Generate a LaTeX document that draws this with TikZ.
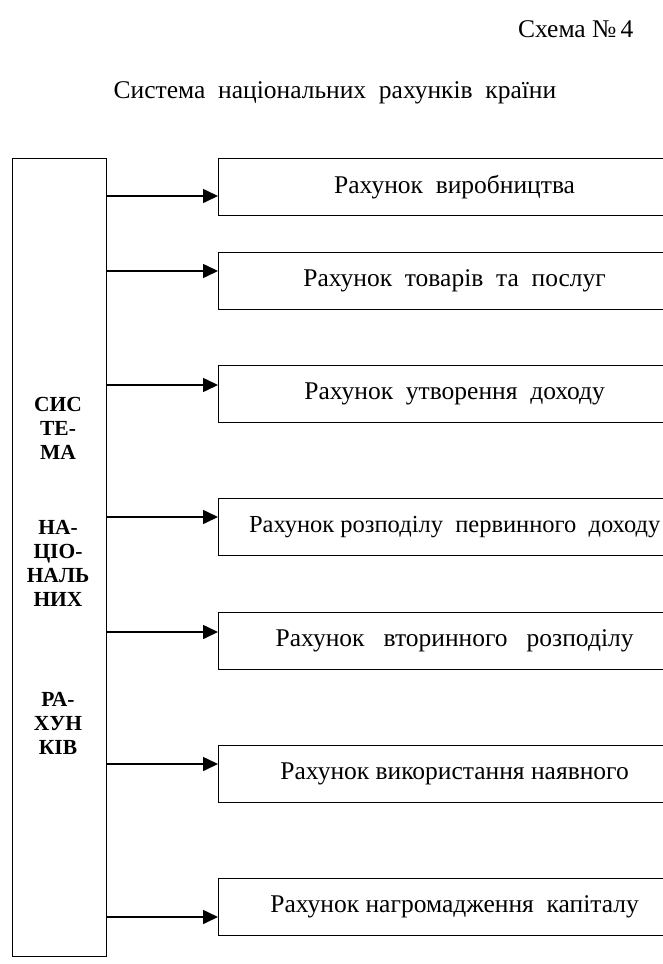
\documentclass[tikz,border=0pt]{standalone}
\usepackage{fontspec}
\setmainfont{Liberation Serif}
\usetikzlibrary{arrows.meta}
\begin{document}
\begin{tikzpicture}[x=1pt,y=-1pt,
  txt/.style={font=\fontsize{25.5}{29}\selectfont},
  acct/.style={draw, line width=1.3pt, anchor=north west, minimum width=472pt,
    minimum height=57pt, inner sep=0pt, font=\fontsize{25.5}{30}\selectfont},
  sysbox/.style={draw, line width=1.3pt, anchor=north west, minimum width=94pt,
    minimum height=798pt, inner sep=0pt},
  systxt/.style={align=center, font=\bfseries\fontsize{21.5}{24}\selectfont},
  arr/.style={line width=1.6pt, -{Triangle[length=15pt,width=14pt]}}]
\useasboundingbox (0,0) rectangle (663,964);
\clip (0,0) rectangle (663,964);
\node[txt, anchor=base east] (scheme) at (637,37) {Схема №\,4};
\node[txt, anchor=base] (title) at (335,98) {Система\ \ національних\ \ рахунків\ \ країни};
\node[sysbox] (sys) at (12,158) {};
\node[systxt] (s1) at (58,428) {СИС\\ТЕ-\\МА};
\node[systxt] (s2) at (58,563) {НА-\\ЦІО-\\НАЛЬ\\НИХ};
\node[systxt] (s3) at (58,723) {РА-\\ХУН\\КІВ};
\node[acct] (b1) at (218,158) {Рахунок\ \ виробництва};
\node[acct] (b2) at (218,252) {Рахунок\ \ товарів\ \ та\ \ послуг};
\node[acct] (b3) at (218,365) {Рахунок\ \ утворення\ \ доходу};
\node[acct, font=\fontsize{24.5}{30}\selectfont] (b4) at (218,498) {Рахунок розподілу\ \ первинного\ \ доходу};
\node[acct] (b5) at (218,612) {Рахунок\ \ \ вторинного\ \ \ розподілу};
\node[acct] (b6) at (218,745) {Рахунок використання наявного};
\node[acct] (b7) at (218,878) {Рахунок нагромадження\ \ капіталу};
\coordinate (a1) at (218,196);
\coordinate (a2) at (218,271);
\coordinate (a3) at (218,385);
\coordinate (a4) at (218,517);
\coordinate (a5) at (218,632);
\coordinate (a6) at (218,764);
\coordinate (a7) at (218,917);
\foreach \i in {1,...,7} {\draw[arr] (sys.east |- a\i) -- (a\i);}
\end{tikzpicture}
\end{document}
